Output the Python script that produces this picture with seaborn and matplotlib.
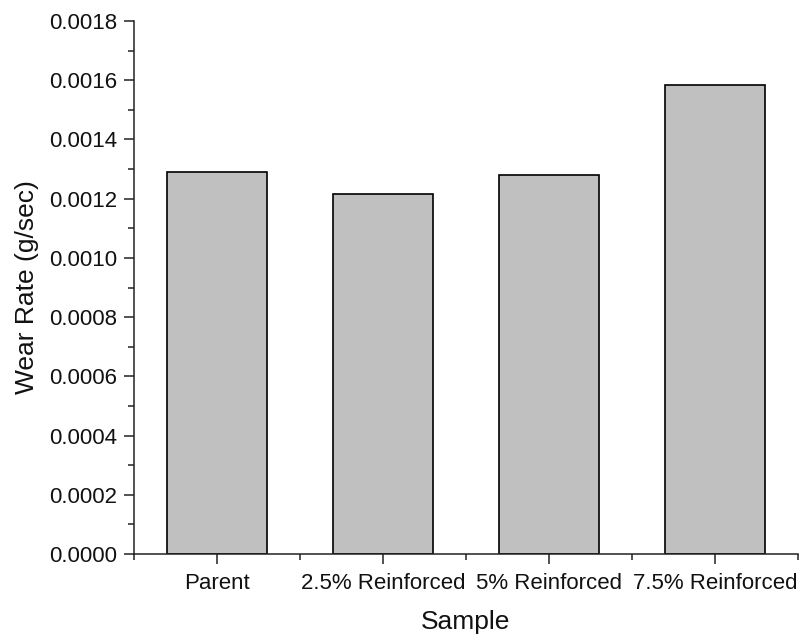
import matplotlib
matplotlib.use("Agg")
import matplotlib.pyplot as plt
from matplotlib.ticker import MultipleLocator, FixedLocator, FormatStrFormatter
import seaborn as sns
import pandas as pd

samples = ["Parent", "2.5% Reinforced", "5% Reinforced", "7.5% Reinforced"]
wear_rate = [0.00129, 0.001216, 0.001281, 0.001585]

sns.set_style("ticks")
plt.rcParams["font.family"] = ["Liberation Sans", "DejaVu Sans"]

df = pd.DataFrame({"Sample": samples, "Wear Rate": wear_rate})

fig = plt.figure(figsize=(8.0, 6.37), dpi=100)
ax = fig.add_axes([0.1675, 0.1303, 0.83, 0.8367])

sns.barplot(data=df, x="Sample", y="Wear Rate", color="#c0c0c0",
            edgecolor="black", linewidth=1.2, width=0.6, saturation=1, ax=ax)

ax.set_xlim(-0.5, 3.5)
ax.set_ylim(0, 0.0018)
ax.yaxis.set_major_locator(MultipleLocator(0.0002))
ax.yaxis.set_minor_locator(MultipleLocator(0.0001))
ax.yaxis.set_major_formatter(FormatStrFormatter("%.4f"))
ax.xaxis.set_minor_locator(FixedLocator([-0.5, 0.5, 1.5, 2.5, 3.5]))

for side in ["top", "right"]:
    ax.spines[side].set_visible(False)
for side in ["left", "bottom"]:
    ax.spines[side].set_linewidth(1.1)
    ax.spines[side].set_color("#222222")

ax.tick_params(which="major", length=7, width=1.1, color="#222222",
               labelsize=16, labelcolor="#111111", pad=5)
ax.tick_params(which="minor", length=4, width=1.1, color="#222222")
ax.tick_params(axis="x", which="major", pad=7)

ax.set_xlabel("Sample", fontsize=19, color="#111111", labelpad=11)
ax.set_ylabel("Wear Rate (g/sec)", fontsize=19, color="#111111", labelpad=7)

fig.savefig("out.png", dpi=100, facecolor="white")
